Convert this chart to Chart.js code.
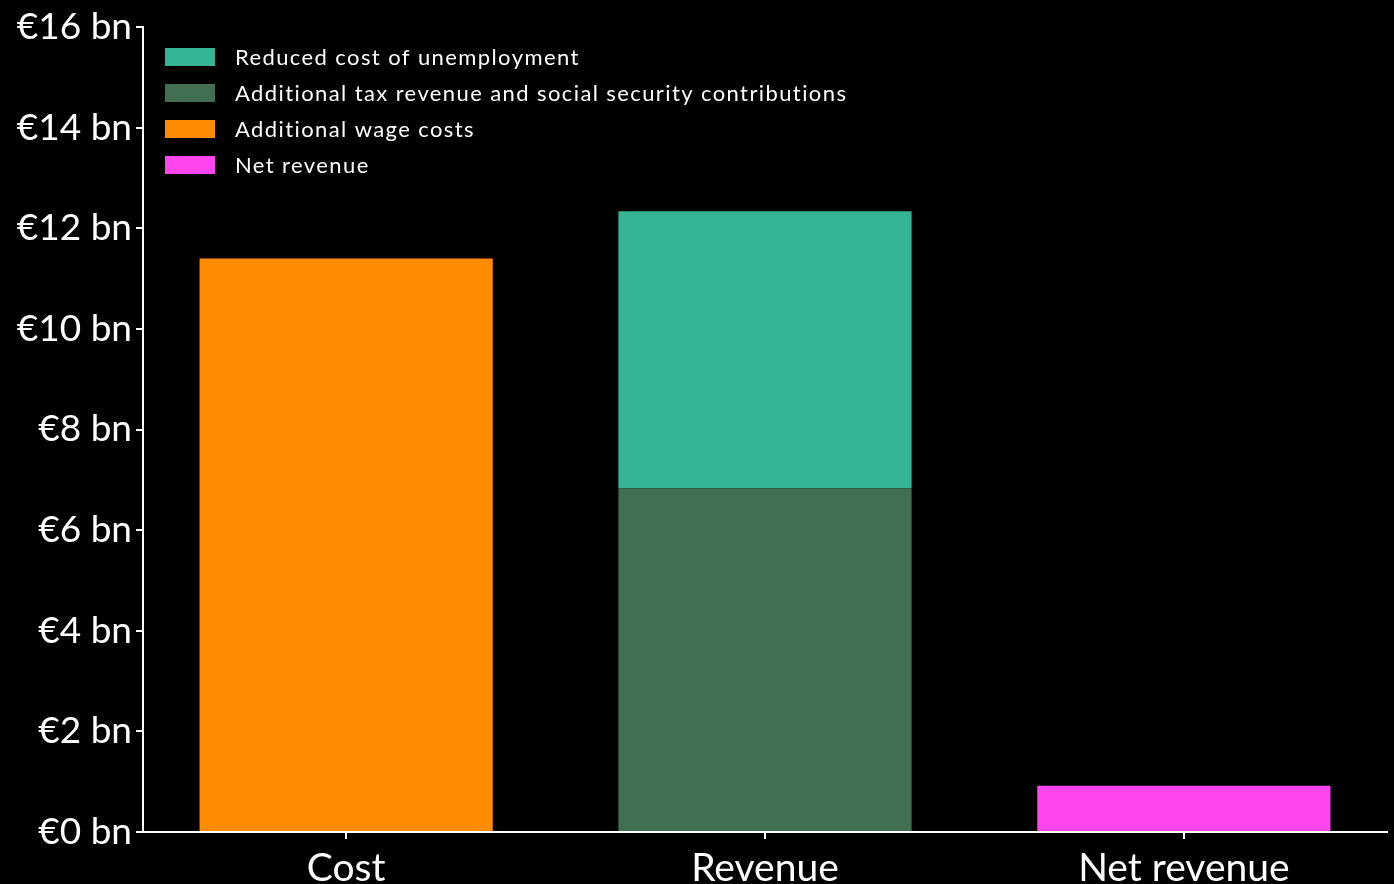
<!DOCTYPE html>
<html>
<head>
<meta charset="utf-8">
<script src="https://cdn.jsdelivr.net/npm/chart.js@4/dist/chart.umd.min.js"></script>
<style>
	html, body { margin: 0; padding: 0; background: #000; }
	#wrap { width: 1394px; height: 884px; position: relative; }
</style>
</head>
<body>
<div id="wrap"><canvas id="chart"></canvas></div>
<script>
// Data
const categories = ['Cost', 'Revenue', 'Net revenue'];
const wageCosts = [11.40, null, null];
const taxRevenue = [null, 6.83, null];
const reducedUnemployment = [null, 5.51, null];
const netRevenue = [null, null, 0.92];
const yTicks = [0, 2, 4, 6, 8, 10, 12, 14, 16];

const FONT = 'Lato, "DejaVu Sans", sans-serif';

// Turn a category-aligned array into {x, y} points, skipping gaps
function points(arr) {
	const out = [];
	arr.forEach((v, i) => { if(v !== null) out.push({ x: i, y: v }); });
	return out;
}

// Legend drawn inside the plot area, top left
const innerLegend = {
	id: 'innerLegend',
	afterDraw(chart) {
		const ctx = chart.ctx;
		const area = chart.chartArea;
		const items = chart.data.datasets.slice().reverse();
		ctx.save();
		ctx.font = '22px ' + FONT;
		ctx.letterSpacing = '1.4px';
		ctx.textBaseline = 'middle';
		items.forEach((ds, i) => {
			const y = area.top + 21 + i * 36;
			ctx.fillStyle = ds.backgroundColor;
			ctx.fillRect(area.left + 22, y, 50, 18);
			ctx.fillStyle = '#fff';
			ctx.fillText(ds.label, area.left + 92, y + 10);
		});
		ctx.restore();
	}
};

const ctx = document.getElementById('chart');
new Chart(ctx, {
	type: 'bar',
	data: {
		datasets: [
			{ label: 'Net revenue', data: points(netRevenue), backgroundColor: '#ff45ee' },
			{ label: 'Additional wage costs', data: points(wageCosts), backgroundColor: '#ff8c00' },
			{ label: 'Additional tax revenue and social security contributions', data: points(taxRevenue), backgroundColor: '#426e53' },
			{ label: 'Reduced cost of unemployment', data: points(reducedUnemployment), backgroundColor: '#35b594' }
		]
	},
	options: {
		responsive: true,
		maintainAspectRatio: false,
		animation: false,
		categoryPercentage: 1,
		barPercentage: 0.7,
		layout: { padding: { top: 27, right: 7, bottom: 0, left: 0 } },
		plugins: {
			legend: { display: false },
			tooltip: { enabled: false }
		},
		scales: {
			x: {
				type: 'linear',
				stacked: true,
				offset: false,
				min: -0.485,
				max: 2.485,
				afterBuildTicks: s => { s.ticks = categories.map((c, i) => ({ value: i })); },
				afterFit: s => { s.height = 52; },
				border: { color: '#fff', width: 2 },
				grid: { offset: false, drawOnChartArea: false, drawTicks: true, tickLength: 7, color: '#fff', lineWidth: 2 },
				ticks: {
					color: '#fff',
					font: { family: FONT, size: 39 },
					padding: 6,
					maxRotation: 0,
					callback: v => categories[v]
				}
			},
			y: {
				stacked: true,
				min: 0,
				max: 16,
				afterBuildTicks: s => { s.ticks = yTicks.map(v => ({ value: v })); },
				afterFit: s => { s.width = 143; },
				border: { color: '#fff', width: 2 },
				grid: { drawOnChartArea: false, drawTicks: true, tickLength: 7, color: '#fff', lineWidth: 2 },
				ticks: {
					color: '#fff',
					font: { family: FONT, size: 37 },
					padding: 4,
					callback: v => '€' + v + ' bn'
				}
			}
		}
	},
	plugins: [innerLegend]
});
</script>
</body>
</html>
